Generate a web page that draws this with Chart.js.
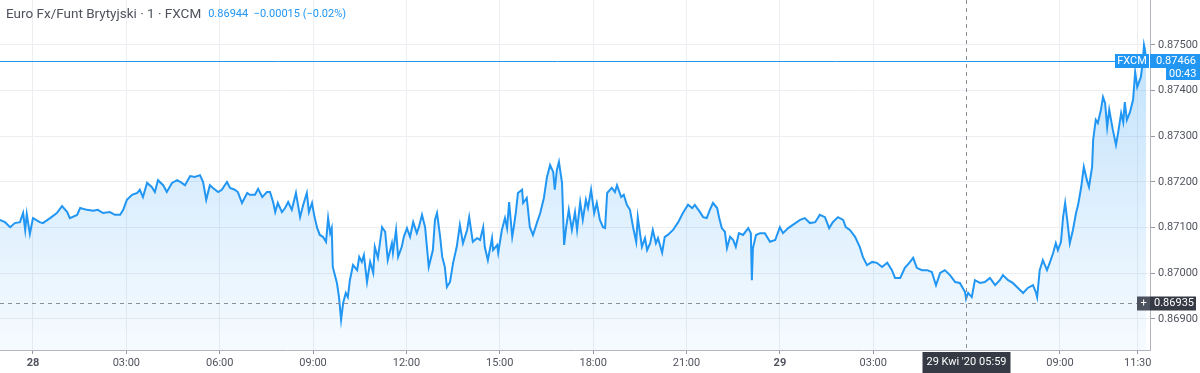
<!DOCTYPE html>
<html>
<head>
<meta charset="utf-8">
<script src="https://cdn.jsdelivr.net/npm/chart.js"></script>
<style>
  body { margin: 0; background: #fff; }
  #wrap { width: 1200px; height: 373px; position: relative; }
</style>
</head>
<body>
<div id="wrap"><canvas id="myChart"></canvas></div>
<script>
// minutes counted from 28 Apr 00:00, EUR/GBP 1-minute close
const minutes = [
  -64, -54, -44, -35, -25, -19, -15, -12, -6, 0, 13, 19, 33, 46, 56, 66, 71, 85, 91, 104,
  116, 125, 135, 148, 158, 168, 174, 181, 191, 201, 206, 212, 220, 229, 235, 241, 251, 258, 268, 278,
  287, 293, 303, 312, 322, 328, 334, 341, 347, 357, 364, 374, 380, 389, 395, 403, 413,
  418, 428, 434, 442, 451, 457, 463, 467, 472, 480, 486, 492, 499, 507, 515, 521, 528, 532, 538, 542,
  548, 553, 559, 565, 569, 573, 576, 578, 586, 590, 594, 598, 603, 607, 611, 617, 625, 629, 634, 638,
  644, 650, 656, 659, 665, 673, 679, 684, 692, 694, 700, 704, 711, 715, 721, 727, 733, 740, 744, 750,
  756, 763, 771, 775, 779, 785, 789, 794, 798, 804, 810, 817, 823, 829, 837, 841, 848, 856,
  862, 868, 871, 877, 885, 887, 895, 897, 904, 910, 914, 918, 924, 927, 931, 935, 943, 945, 952, 958,
  964, 972, 978, 985, 991, 997, 1003, 1006, 1010, 1014, 1020, 1024, 1028, 1033, 1039, 1045, 1049, 1055,
  1060, 1066, 1070, 1076, 1082, 1087, 1093, 1099, 1103, 1107, 1116, 1122, 1126, 1134, 1139, 1145, 1151,
  1157, 1163, 1166, 1174, 1180, 1184, 1190, 1195, 1201, 1205, 1213, 1218, 1224, 1234, 1244, 1253, 1263,
  1271, 1276, 1286, 1292, 1299, 1305, 1311, 1319, 1323, 1328, 1334, 1338, 1344,
  1350, 1355, 1361, 1369, 1379, 1384, 1386, 1388, 1394, 1402, 1411, 1421, 1431, 1440, 1446, 1456, 1465,
  1479, 1488, 1498, 1508, 1517, 1527, 1535, 1542, 1552, 1562, 1567, 1575, 1585, 1594, 1600, 1608, 1618,
  1627, 1637, 1647, 1656, 1662, 1672, 1681, 1691, 1697, 1704, 1714, 1724, 1733, 1741, 1749, 1758, 1768,
  1778, 1787, 1797, 1799,
  1803, 1810, 1816, 1826, 1835, 1845, 1855, 1864, 1870, 1880, 1889, 1899, 1909, 1918, 1928, 1934, 1936,
  1941, 1947, 1955, 1961, 1967, 1972, 1976, 1982, 1986, 1990, 1994, 1999, 2005, 2011, 2015, 2021, 2026,
  2032, 2036, 2042, 2044, 2049, 2053, 2059, 2063, 2067, 2071, 2075, 2082, 2088, 2092, 2098, 2102, 2105,
  2109, 2115, 2121, 2125, 2129, 2136, 2140, 2142, 2144, 2146
]
const prices = [
  0.87117, 0.87112, 0.87101, 0.87110, 0.87112, 0.87132, 0.87095, 0.87130, 0.87086, 0.87121, 0.87112, 0.87110, 0.87121, 0.87132, 0.87147, 0.87134, 0.87121, 0.87128, 0.87143, 0.87139,
  0.87137, 0.87139, 0.87132, 0.87134, 0.87128, 0.87128, 0.87139, 0.87161, 0.87172, 0.87176, 0.87183, 0.87167, 0.87198, 0.87189, 0.87178, 0.87204, 0.87193, 0.87178, 0.87198, 0.87204,
  0.87198, 0.87193, 0.87213, 0.87211, 0.87215, 0.87200, 0.87161, 0.87193, 0.87187, 0.87178, 0.87183, 0.87200, 0.87187, 0.87183, 0.87178, 0.87154, 0.87176,
  0.87172, 0.87172, 0.87185, 0.87167, 0.87178, 0.87178, 0.87156, 0.87134, 0.87154, 0.87134, 0.87143, 0.87156, 0.87139, 0.87176, 0.87123, 0.87150, 0.87176, 0.87134, 0.87154, 0.87128,
  0.87099, 0.87084, 0.87080, 0.87069, 0.87121, 0.87088, 0.87099, 0.87014, 0.86979, 0.86948, 0.86898, 0.86935, 0.86957, 0.86948, 0.86985, 0.87018, 0.87007, 0.87036, 0.87025, 0.87040,
  0.86981, 0.87025, 0.87001, 0.87058, 0.87034, 0.87101, 0.87091, 0.87029, 0.87066, 0.87045, 0.87095, 0.87036, 0.87058, 0.87080, 0.87099, 0.87080, 0.87112, 0.87088, 0.87101, 0.87128,
  0.87101, 0.87014, 0.87051, 0.87117, 0.87132, 0.87080, 0.87036, 0.87014, 0.86970, 0.86981, 0.87023, 0.87058, 0.87106, 0.87066, 0.87095, 0.87123, 0.87069, 0.87077,
  0.87073, 0.87101, 0.87058, 0.87029, 0.87077, 0.87051, 0.87062, 0.87045, 0.87095, 0.87121, 0.87099, 0.87156, 0.87080, 0.87101, 0.87134, 0.87176, 0.87183, 0.87154, 0.87165, 0.87101,
  0.87084, 0.87112, 0.87132, 0.87165, 0.87211, 0.87237, 0.87222, 0.87183, 0.87226, 0.87244, 0.87198, 0.87062, 0.87101, 0.87139, 0.87095, 0.87134, 0.87095, 0.87156,
  0.87117, 0.87161, 0.87143, 0.87183, 0.87132, 0.87154, 0.87117, 0.87101, 0.87099, 0.87176, 0.87187, 0.87178, 0.87193, 0.87167, 0.87172, 0.87150, 0.87139,
  0.87101, 0.87069, 0.87123, 0.87058, 0.87077, 0.87051, 0.87066, 0.87095, 0.87066, 0.87077, 0.87045, 0.87080, 0.87084, 0.87095, 0.87112, 0.87132, 0.87150,
  0.87143, 0.87150, 0.87134, 0.87123, 0.87121, 0.87139, 0.87154, 0.87143, 0.87121, 0.87099, 0.87091, 0.87055, 0.87080,
  0.87073, 0.87058, 0.87088, 0.87084, 0.87099, 0.87088, 0.86985, 0.87055, 0.87084, 0.87088, 0.87088, 0.87069, 0.87073, 0.87101, 0.87088, 0.87099, 0.87106,
  0.87117, 0.87121, 0.87110, 0.87112, 0.87128, 0.87123, 0.87099, 0.87112, 0.87123, 0.87117, 0.87101, 0.87095, 0.87080, 0.87058, 0.87036, 0.87018, 0.87025,
  0.87023, 0.87014, 0.87023, 0.87007, 0.86990, 0.86990, 0.87012, 0.87025, 0.87034, 0.87012, 0.87007, 0.87007, 0.87003, 0.86974, 0.87001, 0.87007, 0.86996,
  0.86981, 0.86979, 0.86959, 0.86944,
  0.86957, 0.86948, 0.86985, 0.86979, 0.86981, 0.86990, 0.86974, 0.86985, 0.86996, 0.86985, 0.86979, 0.86968, 0.86957, 0.86968, 0.86974, 0.86957, 0.86948,
  0.87007, 0.87029, 0.87007, 0.87025, 0.87045, 0.87066, 0.87051, 0.87069, 0.87123, 0.87154, 0.87117, 0.87066, 0.87095, 0.87132, 0.87150, 0.87189, 0.87233,
  0.87204, 0.87189, 0.87233, 0.87292, 0.87336, 0.87329, 0.87358, 0.87386, 0.87373, 0.87320, 0.87358, 0.87314, 0.87281, 0.87307, 0.87351, 0.87331, 0.87375,
  0.87336, 0.87353, 0.87380, 0.87441, 0.87408, 0.87430, 0.87467, 0.87500, 0.87489, 0.87466
]

const tickMinutes = [0, 180, 360, 540, 720, 900, 1080, 1260, 1440, 1620, 1980, 2130]
const tickLabels = ['28', '03:00', '06:00', '09:00', '12:00', '15:00', '18:00', '21:00', '29', '03:00', '09:00', '11:30']
const boldLabels = ['28', '29']
const priceTicks = [0.869, 0.870, 0.871, 0.872, 0.873, 0.874, 0.875]

const lastPrice = 0.87466
const crossMinute = 1799
const crossPrice = 0.86935
const titleText = 'Euro Fx/Funt Brytyjski · 1 · FXCM'
const quoteText = '0.86944  −0.00015 (−0.02%)'
const crossDate = "29 Kwi '20"
const crossTime = '05:59'
const timerText = '00:43'

const blue = '#2196f3'
const textGray = '#50535e'
const fontName = 'Roboto, "Liberation Sans", sans-serif'

const overlay = {
    id: 'overlay',
    afterDraw(chart) {
        const c = chart.ctx
        const area = chart.chartArea
        const xs = chart.scales.x
        const ys = chart.scales.y
        c.save()

        // last price line
        const yl = Math.round(ys.getPixelForValue(lastPrice)) + 0.5
        c.strokeStyle = blue
        c.lineWidth = 1
        c.beginPath(); c.moveTo(area.left, yl); c.lineTo(area.right - 35, yl); c.stroke()

        // crosshair
        const xc = Math.round(xs.getPixelForValue(crossMinute)) + 0.5
        const yc = Math.round(ys.getPixelForValue(crossPrice)) + 0.5
        c.strokeStyle = '#8c8f99'
        c.setLineDash([4, 4])
        c.beginPath(); c.moveTo(xc, area.top); c.lineTo(xc, area.bottom); c.stroke()
        c.beginPath(); c.moveTo(area.left, yc); c.lineTo(area.right - 13, yc); c.stroke()
        c.setLineDash([])

        c.font = '11px ' + fontName
        c.textBaseline = 'middle'

        // FXCM label + price + timer
        c.fillStyle = blue
        c.fillRect(area.right - 35, yl - 7.5, 34, 14)
        c.fillRect(area.right, yl - 7.5, 50, 14)
        c.fillRect(area.right + 16, yl + 6.5, 34, 12)
        c.fillStyle = '#fff'
        c.textAlign = 'center'
        c.fillText('FXCM', area.right - 18, yl)
        c.textAlign = 'left'
        c.fillText(lastPrice.toFixed(5), area.right + 6, yl)
        c.fillText(timerText, area.right + 19, yl + 13)

        // crosshair price label
        c.fillStyle = '#4c525e'
        c.fillRect(area.right - 13, yc - 7, 13, 14)
        c.fillStyle = '#363a45'
        c.fillRect(area.right, yc - 7, 46, 14)
        c.fillStyle = '#fff'
        c.textAlign = 'center'
        c.fillText('+', area.right - 6.5, yc)
        c.textAlign = 'left'
        c.fillText(crossPrice.toFixed(5), area.right + 4, yc)

        // crosshair time label
        c.fillStyle = '#363a45'
        c.fillRect(xc - 44, area.bottom + 2, 88, 21)
        c.fillStyle = '#fff'
        c.textAlign = 'left'
        c.fillText(crossDate, xc - 40, area.bottom + 12.5)
        c.textAlign = 'right'
        c.fillText(crossTime, xc + 40, area.bottom + 12.5)

        // title
        c.textAlign = 'left'
        c.textBaseline = 'alphabetic'
        c.font = '13.5px ' + fontName
        c.fillStyle = textGray
        c.fillText(titleText, 6, 18)
        const w = c.measureText(titleText).width
        c.font = '11px ' + fontName
        c.fillStyle = blue
        c.fillText(quoteText, 6 + w + 7, 17)
        c.restore()
    }
}

const points = minutes.map((m, i) => ({ x: m, y: prices[i] }))

const config = {
    type: 'line',
    data: {
        datasets: [{
            data: points,
            borderColor: blue,
            borderWidth: 2,
            pointRadius: 0,
            tension: 0,
            fill: 'start',
            backgroundColor: (ctx) => {
                const area = ctx.chart.chartArea
                if (!area) return 'rgba(33,150,243,0.1)'
                const g = ctx.chart.ctx.createLinearGradient(0, area.top + 40, 0, area.bottom)
                g.addColorStop(0, 'rgba(33,150,243,0.28)')
                g.addColorStop(1, 'rgba(33,150,243,0.04)')
                return g
            }
        }]
    },
    options: {
        responsive: true,
        maintainAspectRatio: false,
        animation: false,
        layout: { padding: 0 },
        plugins: { legend: { display: false }, tooltip: { enabled: false } },
        scales: {
            x: {
                type: 'linear',
                min: -63.6,
                max: 2153.6,
                afterFit: (s) => { s.height = 23; s.paddingLeft = 0; s.paddingRight = 0 },
                afterBuildTicks: (s) => { s.ticks = tickMinutes.map(v => ({ value: v })) },
                grid: { color: '#eceef2', tickLength: 4, tickColor: '#9598a1' },
                border: { color: '#b2b5be' },
                ticks: {
                    autoSkip: false,
                    maxRotation: 0,
                    padding: 3,
                    color: textGray,
                    font: (ctx) => ({
                        family: fontName,
                        size: 11,
                        weight: ctx.tick && boldLabels.includes(tickLabels[tickMinutes.indexOf(ctx.tick.value)]) ? 'bold' : 'normal'
                    }),
                    callback: (v) => tickLabels[tickMinutes.indexOf(v)]
                }
            },
            y: {
                position: 'right',
                min: 0.868321,
                max: 0.875985,
                afterFit: (s) => { s.width = 50; s.paddingTop = 0; s.paddingBottom = 0 },
                afterBuildTicks: (s) => { s.ticks = priceTicks.map(v => ({ value: v })) },
                grid: { color: '#eceef2', tickLength: 5, tickColor: '#9598a1' },
                border: { color: '#b2b5be' },
                ticks: {
                    padding: 3,
                    color: textGray,
                    font: { family: fontName, size: 11 },
                    callback: (v) => v.toFixed(5)
                }
            }
        }
    },
    plugins: [overlay]
}

const grafico = new Chart(document.getElementById('myChart'), config)
</script>
</body>
</html>
